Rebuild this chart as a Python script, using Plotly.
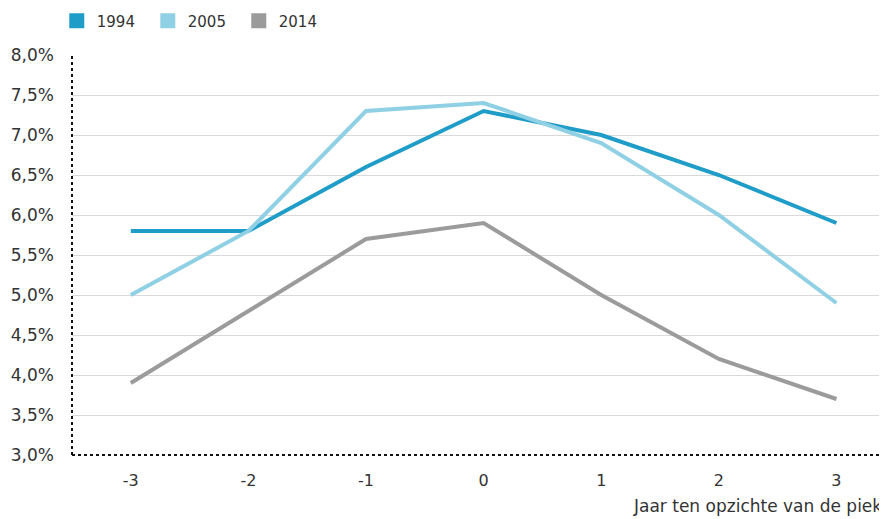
import plotly.graph_objects as go

years = [-3, -2, -1, 0, 1, 2, 3]
s1994 = [5.8, 5.8, 6.6, 7.3, 7.0, 6.5, 5.9]
s2005 = [5.0, 5.8, 7.3, 7.4, 6.9, 6.0, 4.9]
s2014 = [3.9, 4.8, 5.7, 5.9, 5.0, 4.2, 3.7]
series = [("1994", s1994, "#1f9dc8"), ("2005", s2005, "#8fd0e4"), ("2014", s2014, "#9b9b9b")]
yticks = [3.0, 3.5, 4.0, 4.5, 5.0, 5.5, 6.0, 6.5, 7.0, 7.5, 8.0]
yticktext = [f"{v:.1f}%".replace(".", ",") for v in yticks]

FONT = "DejaVu Sans"
fig = go.Figure()
for name, vals, col in series:
    fig.add_trace(go.Scatter(x=years, y=vals, mode="lines", line=dict(color=col, width=4),
                             showlegend=False, hoverinfo="skip"))
for name, vals, col in series:
    fig.add_trace(go.Scatter(x=[None], y=[None], mode="markers", name=name,
                             marker=dict(symbol="square", size=15, color=col)))

fig.update_layout(
    width=887, height=519,
    margin=dict(l=64, r=8, t=47, b=72),
    plot_bgcolor="white", paper_bgcolor="white",
    font=dict(family=FONT, color="#333333", size=16),
    legend=dict(orientation="h", xref="container", yref="container",
                x=0.055, y=0.975, xanchor="left", yanchor="middle",
                font=dict(size=15, color="#333333"), itemwidth=30, tracegroupgap=0,
                entrywidth=46, entrywidthmode="pixels"),
    xaxis=dict(range=[-3.5, 3.43], tickvals=years, ticktext=[str(v) for v in years],
               showgrid=False, zeroline=False, showline=False, ticks="", ticklabelstandoff=14,
               tickfont=dict(size=16), automargin=False),
    yaxis=dict(range=[3.0, 8.0], tickvals=yticks, ticktext=yticktext,
               showgrid=True, gridcolor="#d9d9d9", gridwidth=1, zeroline=False,
               showline=False, ticks="", ticklabelstandoff=17, tickfont=dict(size=17),
               automargin=False),
    shapes=[
        dict(type="line", xref="paper", yref="paper", x0=0, x1=0, y0=0, y1=1,
             line=dict(color="#111111", width=2, dash="dot")),
        dict(type="line", xref="paper", yref="paper", x0=0, x1=1, y0=0, y1=0,
             line=dict(color="#111111", width=2, dash="dot")),
    ],
    annotations=[dict(text="Jaar ten opzichte van de piek", xref="paper", yref="paper",
                      x=0.996, y=-0.128, xanchor="right", yanchor="middle", showarrow=False,
                      font=dict(size=17, color="#333333"))],
)
fig.write_html("out.html")
